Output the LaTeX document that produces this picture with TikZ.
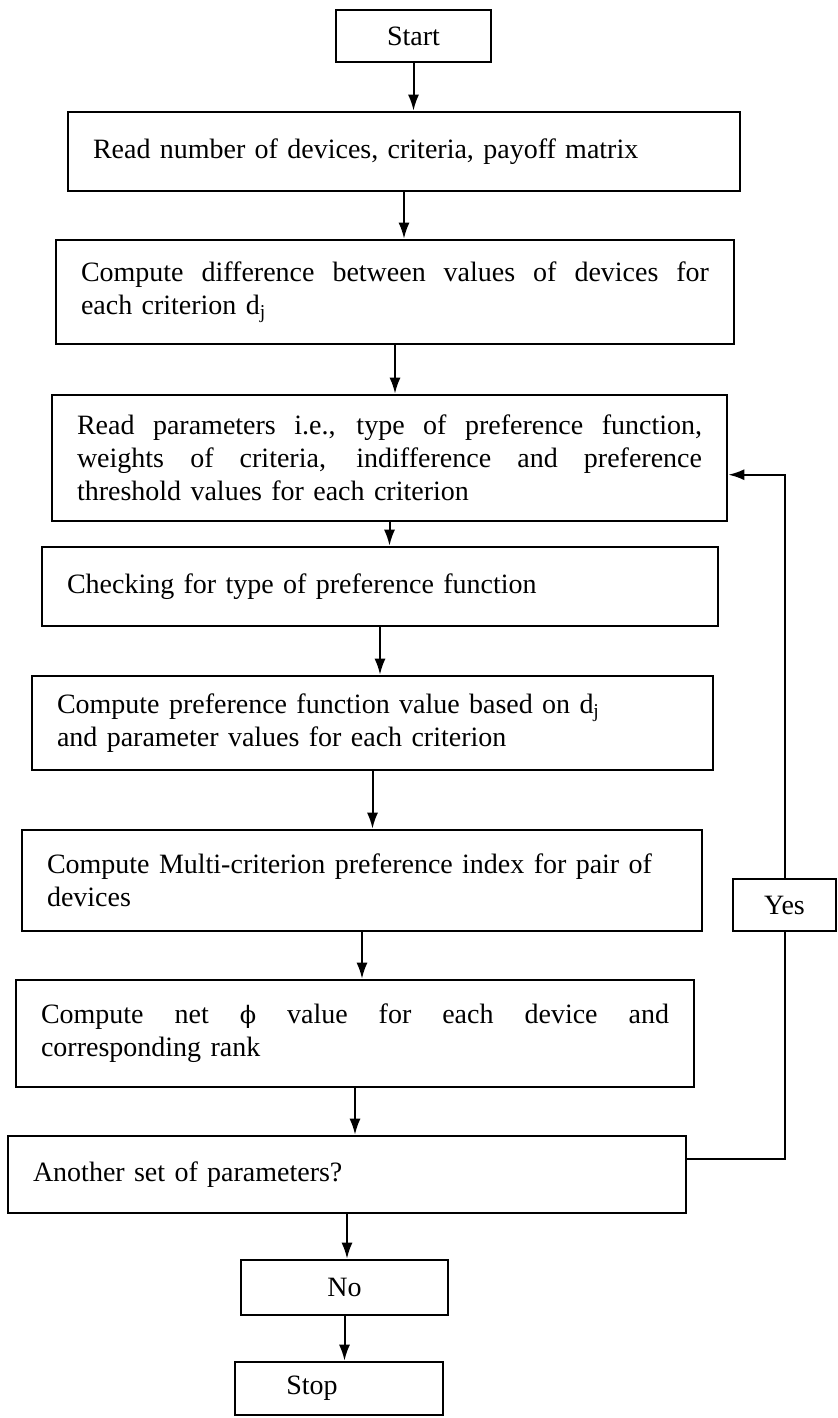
\documentclass[tikz,border=0pt]{standalone}
\usepackage{fontspec}
\setmainfont{Liberation Serif}
\newfontfamily\symfont{DejaVu Serif}
\usetikzlibrary{arrows.meta,calc}

% a line spread to a given width (spaces made stretchable inside the node)
\newcommand{\fullline}[2]{{\spaceskip=.3333em plus 1fil\xspaceskip=.5em plus 1fil\makebox[#1][s]{#2}}}

\begin{document}
\begin{tikzpicture}[x=0.5pt,y=-0.5pt,
  every node/.style={font=\fontsize{14}{16.5}\selectfont},
  plain/.style={draw, line width=1.3pt, inner sep=0pt, align=center},
  stepbox/.style 2 args={draw, line width=1.3pt, inner xsep=12.5pt, inner ysep=0pt,
     align=left, text width=#1, minimum height=#2},
  link/.style={line width=1pt},
  arr/.style={line width=1pt, -{Latex[length=8pt,width=5.5pt]}}
]
\useasboundingbox (0,0) rectangle (837,1418);

% terminal boxes
\node[plain, minimum width=77.5pt, minimum height=26pt] (start) at (413.5,36) {Start};

% process steps
\node[stepbox={311pt}{39.5pt}] (b1) at (404,151.5)
  {Read number of devices, criteria, payoff matrix};
\node[stepbox={314pt}{52pt}] (b2) at (395,292)
  {\fullline{314pt}{Compute difference between values of devices for}\\
   each criterion d\textsubscript{j}};
\node[stepbox={312.5pt}{63pt}] (b3) at (389.5,458)
  {\fullline{312.5pt}{Read parameters i.e., type of preference function,}\\
   \fullline{312.5pt}{weights of criteria, indifference and preference}\\
   threshold values for each criterion};
\node[stepbox={313pt}{39.5pt}] (b4) at (380,586.5)
  {Checking for type of preference function};
\node[stepbox={315.5pt}{47pt}] (b5) at (372.5,723)
  {Compute preference function value based on d\textsubscript{j}\\
   and parameter values for each criterion};
\node[stepbox={315pt}{50.5pt}] (b6) at (362,880.5)
  {Compute Multi-criterion preference index for pair of\\
   devices};
\node[stepbox={314pt}{53.5pt}] (b7) at (355,1033.5)
  {\fullline{314pt}{Compute net {\symfont\fontsize{12}{14}\selectfont ϕ} value for each device and}\\
   corresponding rank};
\node[stepbox={314pt}{38.5pt}] (b8) at (347,1174.5)
  {Another set of parameters?};

% decision outcomes
\node[plain, minimum width=51.5pt, minimum height=26pt] (yes) at (784.5,905) {Yes};
\node[plain, minimum width=103.5pt, minimum height=27.5pt] (no) at (344.5,1287.5) {No};
\node[plain, minimum width=104pt, minimum height=26.5pt] (stop) at (339,1388.5) {Stop\hspace*{27pt}};

% main flow
\draw[arr] (start.south) -- (start.south |- b1.north);
\draw[arr] (b1.south) -- (b1.south |- b2.north);
\draw[arr] (b2.south) -- (b2.south |- b3.north);
\draw[arr] (b3.south) -- (b3.south |- b4.north);
\draw[arr] (b4.south) -- (b4.south |- b5.north);
\draw[arr] (b5.south) -- (b5.south |- b6.north);
\draw[arr] (b6.south) -- (b6.south |- b7.north);
\draw[arr] (b7.south) -- (b7.south |- b8.north);
\draw[arr] (b8.south) -- (b8.south |- no.north);
\draw[arr] (no.south) -- (no.south |- stop.north);

% loop back for another parameter set
\coordinate (loopout) at ($(b8.north east)!0.3!(b8.south east)$);
\coordinate (loopin) at ($(b3.north east)!0.63!(b3.south east)$);
\draw[link] (loopout) -| (yes.south);
\draw[arr] (yes.north) |- (loopin);
\end{tikzpicture}
\end{document}
